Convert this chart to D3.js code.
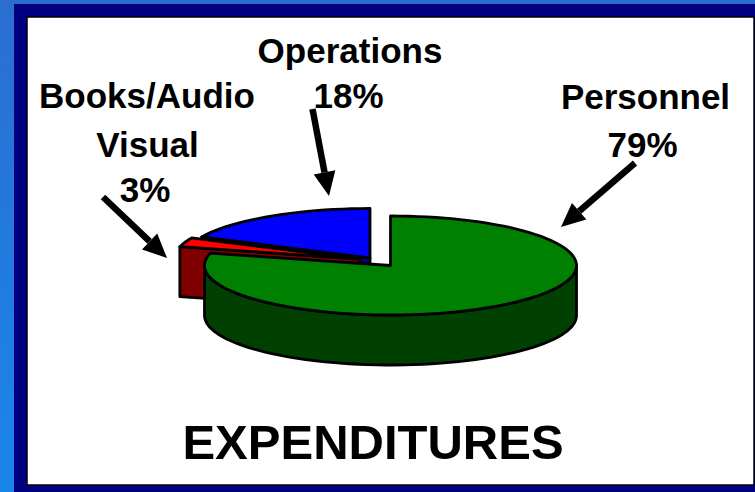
<!DOCTYPE html>
<html><head><meta charset="utf-8">
<script src="https://cdn.jsdelivr.net/npm/d3@7"></script>
<style>html,body{margin:0;padding:0;background:#fff}svg{display:block}</style>
</head><body><svg id="c" width="755" height="492"></svg>
<script>
const categories = ["Personnel","Books/Audio Visual","Operations"];
const shares = [79,3,18];
const topColors = ["#008000","#ff0000","#0000ff"];
const sideColors = ["#004000","#800000","#000080"];
const chartTitle = "EXPENDITURES";

const svg = d3.select("#c");
const defs = svg.append("defs");
const grad = defs.append("linearGradient").attr("id","bg").attr("x1",0).attr("y1",0).attr("x2",0).attr("y2",1);
grad.append("stop").attr("offset",0).attr("stop-color","#2b6ed0");
grad.append("stop").attr("offset",1).attr("stop-color","#1a86ea");
svg.append("rect").attr("width",755).attr("height",492).attr("fill","url(#bg)");
svg.append("rect").attr("x",14).attr("y",4).attr("width",741).attr("height",488).attr("fill","#000080");
svg.append("rect").attr("x",27).attr("y",17).attr("width",727).attr("height",468).attr("fill","#fff").attr("stroke","#000").attr("stroke-width",1.5);

// pie geometry
const rx = 186, ry = 49.5, depth = 50;
const centers = [[390.5,265.5],[360,259],[370,258]];
const arcs = d3.pie().sort(null).value(d=>d)(shares);
const sx = d3.scaleLinear().domain([-1,1]).range([-rx,rx]);
const sy = d3.scaleLinear().domain([-1,1]).range([-ry,ry]);
const pt = (c,a,dz=0)=>[c[0]+sx(Math.sin(a)), c[1]-sy(Math.cos(a))+dz];
const line = d3.line();
function rim(c,a0,a1,dz=0){
  const n = Math.max(2,Math.ceil(Math.abs(a1-a0)/0.05));
  return d3.range(n+1).map(i=>pt(c,a0+(a1-a0)*i/n,dz));
}
const g = svg.append("g").attr("stroke","#000").attr("stroke-width",2.8).attr("stroke-linejoin","round");
function wedge(c,a){
  return line([c,...rim(c,a.startAngle,a.endAngle)])+"Z";
}
function face(c,ang){
  const p = pt(c,ang);
  return line([p,c,[c[0],c[1]+depth],[p[0],p[1]+depth]])+"Z";
}
// Operations, Books, Personnel painted back to front
[2,1].forEach(i=>{
  g.append("path").attr("d",face(centers[i],arcs[i].startAngle)).attr("fill",sideColors[i]);
  g.append("path").attr("d",wedge(centers[i],arcs[i])).attr("fill",topColors[i]);
});
const wall = [...rim(centers[0],Math.PI/2,3*Math.PI/2),...rim(centers[0],3*Math.PI/2,Math.PI/2,depth)];
g.append("path").attr("d",line(wall)+"Z").attr("fill",sideColors[0]);
g.append("path").attr("d",wedge(centers[0],arcs[0])).attr("fill",topColors[0]);

// labels
const labels = [
  {lines:["Operations","18%"],x:[350,348.5],y:[63,108]},
  {lines:["Books/Audio","Visual","3%"],x:[147,147.5,145],y:[108,156.5,202]},
  {lines:["Personnel","79%"],x:[645.5,642.5],y:[109,157]}
];
const tg = svg.append("g").attr("font-family","'Liberation Sans',Arial,sans-serif").attr("font-weight",700).attr("fill","#000").attr("text-anchor","middle");
labels.forEach(l=>l.lines.forEach((t,i)=>tg.append("text").attr("x",l.x[i]).attr("y",l.y[i]).attr("font-size",35).text(t)));
tg.append("text").attr("x",373).attr("y",459).attr("font-size",49).text(chartTitle);

// leader arrows: [from, tip]
const arrows = [[[312.5,109],[329,196]],[[103,197],[167,258]],[[635,163],[561,227]]];
arrows.forEach(([a,b])=>{
  const ang=Math.atan2(b[1]-a[1],b[0]-a[0]), L=24, W=11;
  const base=[b[0]-L*Math.cos(ang),b[1]-L*Math.sin(ang)];
  const n=[-Math.sin(ang),Math.cos(ang)];
  svg.append("path").attr("d",line([a,base])).attr("stroke","#000").attr("stroke-width",6.5).attr("fill","none");
  svg.append("path").attr("d",line([b,[base[0]+n[0]*W,base[1]+n[1]*W],[base[0]-n[0]*W,base[1]-n[1]*W]])+"Z").attr("fill","#000");
});
</script></body></html>
